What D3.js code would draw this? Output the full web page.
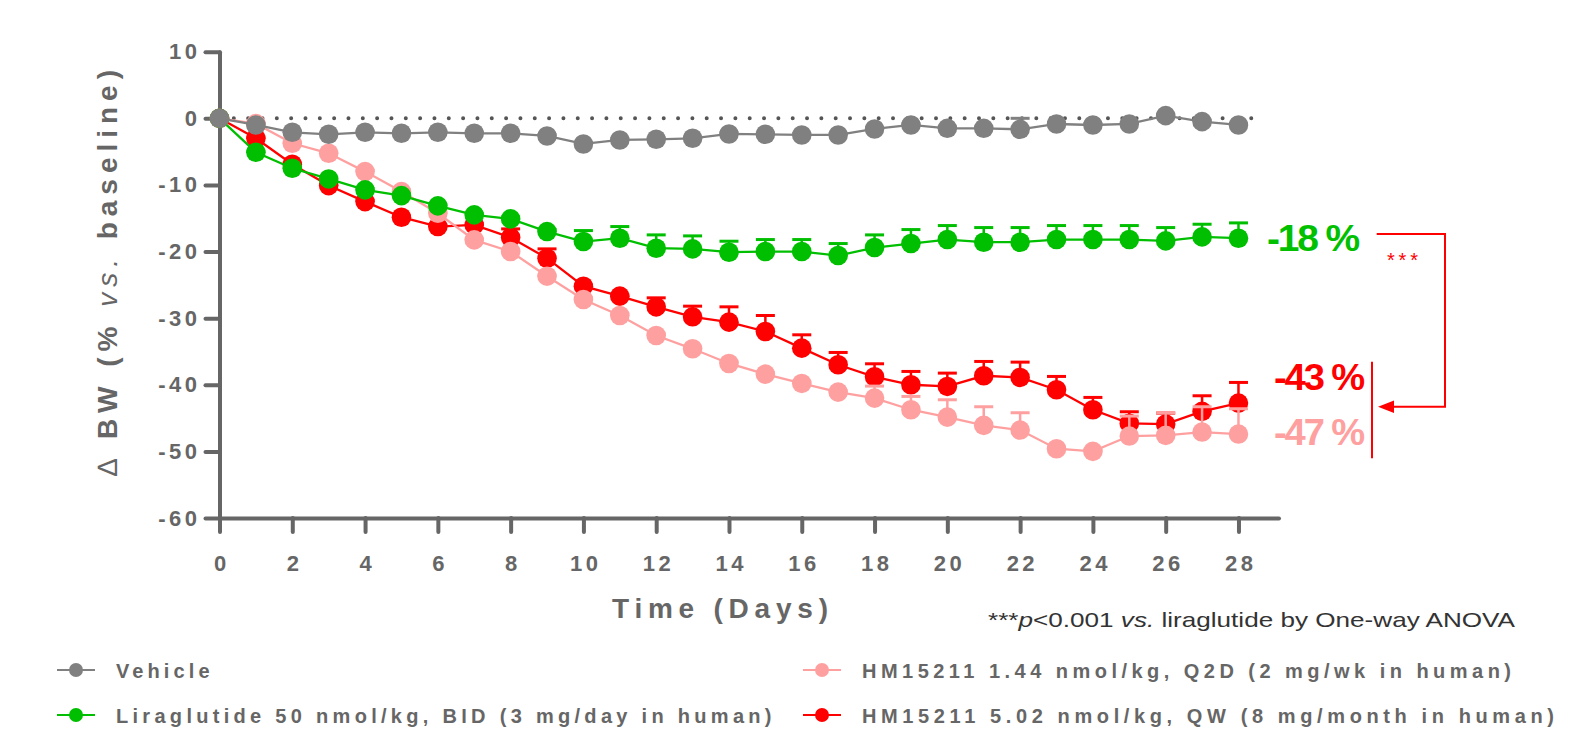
<!DOCTYPE html>
<html><head><meta charset="utf-8">
<script src="https://cdn.jsdelivr.net/npm/d3@7"></script>
<style>
body{margin:0;background:#fff;}
svg{display:block;font-family:"Liberation Sans",Arial,sans-serif;}
</style>
</head><body>
<svg id="c" width="1582" height="740"></svg>
<script>
// ---------------- data ----------------
const days = [0,1,2,3,4,5,6,7,8,9,10,11,12,13,14,15,16,17,18,19,20,21,22,23,24,25,26,27,28];

const vehicle    = [0,-1.0,-2.1,-2.4,-2.1,-2.25,-2.1,-2.25,-2.25,-2.65,-3.85,-3.25,-3.15,-3.0,-2.35,-2.4,-2.5,-2.5,-1.6,-1.0,-1.5,-1.5,-1.65,-0.85,-1.0,-0.85,0.4,-0.5,-1.0];
const vehicleErr = [0,0.2,0.2,0.2,0.2,0.2,0.2,0.2,0.2,0.2,0.2,0.2,0.2,0.2,0.2,0.2,0.2,0.2,0.2,0.2,0.2,0.2,1.65,0.2,0.2,0.2,0.2,0.2,0.2];

const lira    = [0,-5.1,-7.5,-9.1,-10.75,-11.6,-13.15,-14.5,-15.1,-17.0,-18.5,-18.0,-19.5,-19.6,-20.1,-20.0,-20.0,-20.6,-19.4,-18.8,-18.2,-18.6,-18.6,-18.2,-18.2,-18.2,-18.4,-17.8,-18.0];
const liraErr = [0,0.2,0.2,0.2,0.2,0.2,0.2,0.2,0.3,0.3,1.65,1.75,2.0,1.95,1.65,1.8,1.8,1.8,1.9,2.1,2.1,2.2,2.2,2.1,2.1,2.1,2.0,1.9,2.3];

const hmLow    = [0,-0.8,-3.75,-5.25,-8.0,-11.0,-14.25,-18.25,-20.0,-23.7,-27.2,-29.6,-32.6,-34.6,-36.8,-38.4,-39.8,-41.1,-42.0,-43.75,-44.85,-46.1,-46.8,-49.6,-50.0,-47.7,-47.6,-47.1,-47.4];
const hmLowErr = [0,0.2,0.2,0.2,0.2,0.2,0.2,0.2,0.2,0.2,0.2,0.2,0.2,0.2,0.2,0.2,0.2,0.2,1.8,2.0,2.6,2.8,2.6,0.2,0.2,3.0,3.4,3.8,3.8];

const hmHigh    = [0,-3.0,-6.9,-10.1,-12.5,-14.85,-16.25,-16.0,-17.9,-21.0,-25.2,-26.7,-28.3,-29.8,-30.6,-32.0,-34.5,-37.0,-38.8,-40.0,-40.25,-38.65,-38.9,-40.75,-43.75,-45.8,-45.9,-44.0,-42.75];
const hmHighErr = [0,0.2,0.2,0.2,0.2,0.2,0.2,0.2,1.3,1.4,0.2,0.2,1.35,1.6,2.3,2.4,2.0,1.85,1.95,2.0,2.0,2.15,2.3,2.0,1.85,1.75,1.65,2.35,3.1];

const seriesNames  = ["Vehicle","Liraglutide 50 nmol/kg, BID (3 mg/day in human)","HM15211 1.44 nmol/kg, Q2D (2 mg/wk in human)","HM15211 5.02 nmol/kg, QW (8 mg/month in human)"];
const seriesColors = ["#808080","#00bf00","#ffa0a0","#ff0000"];

const yTicks = [10,0,-10,-20,-30,-40,-50,-60];
const xTicks = [0,2,4,6,8,10,12,14,16,18,20,22,24,26,28];

const endLabels = ["-18 %","-43 %","-47 %"];

// ---------------- chart ----------------
const svg = d3.select("#c");
const axisColor = "#666";
const x = d3.scaleLinear().domain([0,29.1]).range([219.5,1278.5]);
const y = d3.scaleLinear().domain([10,-60]).range([51.7,518]);

// dotted baseline
svg.append("line")
  .attr("x1",x(0)).attr("x2",x(28.7)).attr("y1",y(0)).attr("y2",y(0))
  .attr("stroke","#555").attr("stroke-width",4).attr("stroke-linecap","round")
  .attr("stroke-dasharray","0 14.33");

// axes
const yAxis = svg.append("g").attr("transform",`translate(${x(0)},0)`)
  .call(d3.axisLeft(y).tickValues(yTicks).tickSize(14).tickSizeOuter(0).tickPadding(5).tickFormat(d=>String(d)));
const xAxis = svg.append("g").attr("transform",`translate(0,${y(-60)})`)
  .call(d3.axisBottom(x).tickValues(xTicks).tickSize(14).tickSizeOuter(0).tickPadding(23).tickFormat(d=>String(d)));
[yAxis,xAxis].forEach(g=>{
  g.select(".domain").attr("stroke",axisColor).attr("stroke-width",4).attr("stroke-linecap","round");
  g.selectAll(".tick line").attr("stroke",axisColor).attr("stroke-width",4).attr("stroke-linecap","round");
  g.selectAll(".tick text").attr("fill",axisColor).style("font-size","22px").style("font-weight","bold")
    .style("letter-spacing","3.5px").style("font-family","'Liberation Sans',Arial,sans-serif");
});
xAxis.selectAll(".tick text").attr("dx","1.75");

// axis titles
svg.append("text").attr("x",720).attr("y",618).attr("text-anchor","middle")
  .attr("fill",axisColor).style("font-size","28px").style("font-weight","bold")
  .attr("textLength",216).attr("lengthAdjust","spacing").text("Time (Days)");

const yt = svg.append("text").attr("transform","translate(117,273) rotate(-90)")
  .attr("text-anchor","middle").attr("fill",axisColor).style("font-size","28px").style("font-weight","bold")
  .attr("textLength",406).attr("lengthAdjust","spacing");
yt.append("tspan").style("font-weight","normal").text("\u2206 ");
yt.append("tspan").text("BW (% ");
yt.append("tspan").style("font-style","italic").style("font-weight","normal").text("vs.");
yt.append("tspan").text(" baseline)");

// series
const seriesData = [
  {name:seriesNames[3], color:seriesColors[3], v:hmHigh, e:hmHighErr},
  {name:seriesNames[2], color:seriesColors[2], v:hmLow,  e:hmLowErr},
  {name:seriesNames[1], color:seriesColors[1], v:lira,   e:liraErr},
  {name:seriesNames[0], color:seriesColors[0], v:vehicle,e:vehicleErr}
];
const line = d3.line().x((d,i)=>x(days[i])).y(d=>y(d));
seriesData.forEach(s=>{
  const g = svg.append("g");
  g.append("path").attr("d",line(s.v)).attr("fill","none").attr("stroke",s.color).attr("stroke-width",2.3);
  const eb = g.selectAll(".eb").data(s.v.map((v,i)=>({d:days[i],v,e:s.e[i]})).filter(p=>p.e>0)).enter().append("g");
  eb.append("line").attr("x1",p=>x(p.d)).attr("x2",p=>x(p.d)).attr("y1",p=>y(p.v)).attr("y2",p=>y(p.v+p.e))
    .attr("stroke",s.color).attr("stroke-width",2.5);
  eb.append("line").attr("x1",p=>x(p.d)-9.5).attr("x2",p=>x(p.d)+9.5).attr("y1",p=>y(p.v+p.e)).attr("y2",p=>y(p.v+p.e))
    .attr("stroke",s.color).attr("stroke-width",3);
  g.selectAll("circle").data(s.v).enter().append("circle")
    .attr("cx",(d,i)=>x(days[i])).attr("cy",d=>y(d)).attr("r",9.8).attr("fill",s.color);
});

// end labels
const endColors = ["#00c000","#ff0000","#ffa0a0"];
const endY = [251,390,445];
endLabels.forEach((t,i)=>{
  svg.append("text").attr("x",i===0?1267:1274).attr("y",endY[i]).attr("fill",endColors[i])
    .style("font-size","36px").style("font-weight","bold").style("letter-spacing","-2px")
    .attr("textLength",i===0?91:89).attr("lengthAdjust","spacingAndGlyphs").text(t);
});

// significance bracket
svg.append("path").attr("d","M1376.7,234H1445V406.7H1392").attr("fill","none").attr("stroke","#ff0000").attr("stroke-width",2);
svg.append("path").attr("d","M1378,406.7L1394,400.5L1394,413Z").attr("fill","#ff0000");
svg.append("line").attr("x1",1372).attr("x2",1372).attr("y1",361.7).attr("y2",458.3).attr("stroke","#ff0000").attr("stroke-width",2);
svg.append("text").attr("x",1387).attr("y",267).attr("fill","#ff0000").style("font-size","20px")
  .attr("textLength",31).attr("lengthAdjust","spacing").text("***");

// footnote
const fn = svg.append("text").attr("x",988).attr("y",627).attr("fill","#333").style("font-size","21px")
  .attr("textLength",527).attr("lengthAdjust","spacingAndGlyphs");
fn.append("tspan").text("***");
fn.append("tspan").style("font-style","italic").text("p");
fn.append("tspan").text("<0.001 ");
fn.append("tspan").style("font-style","italic").text("vs.");
fn.append("tspan").text(" liraglutide by One-way ANOVA");

// legend
const legendOrder = [0,1,2,3];
const legendX = [57,57,803,803];
const legendY = [670,715,670,715];
const legendW = [93.5,655.5,649,692];
legendOrder.forEach((k,i)=>{
  const g = svg.append("g").attr("transform",`translate(${legendX[i]},${legendY[i]})`);
  g.append("line").attr("x1",0).attr("x2",38).attr("y1",0).attr("y2",0).attr("stroke",seriesColors[k]).attr("stroke-width",2.2);
  g.append("circle").attr("cx",19).attr("cy",0).attr("r",7).attr("fill",seriesColors[k]);
  g.append("text").attr("x",59).attr("y",7.5).attr("fill",axisColor)
    .style("font-size","20px").style("font-weight","bold")
    .attr("textLength",legendW[i]).attr("lengthAdjust","spacing").text(seriesNames[k]);
});
</script>
</body></html>
